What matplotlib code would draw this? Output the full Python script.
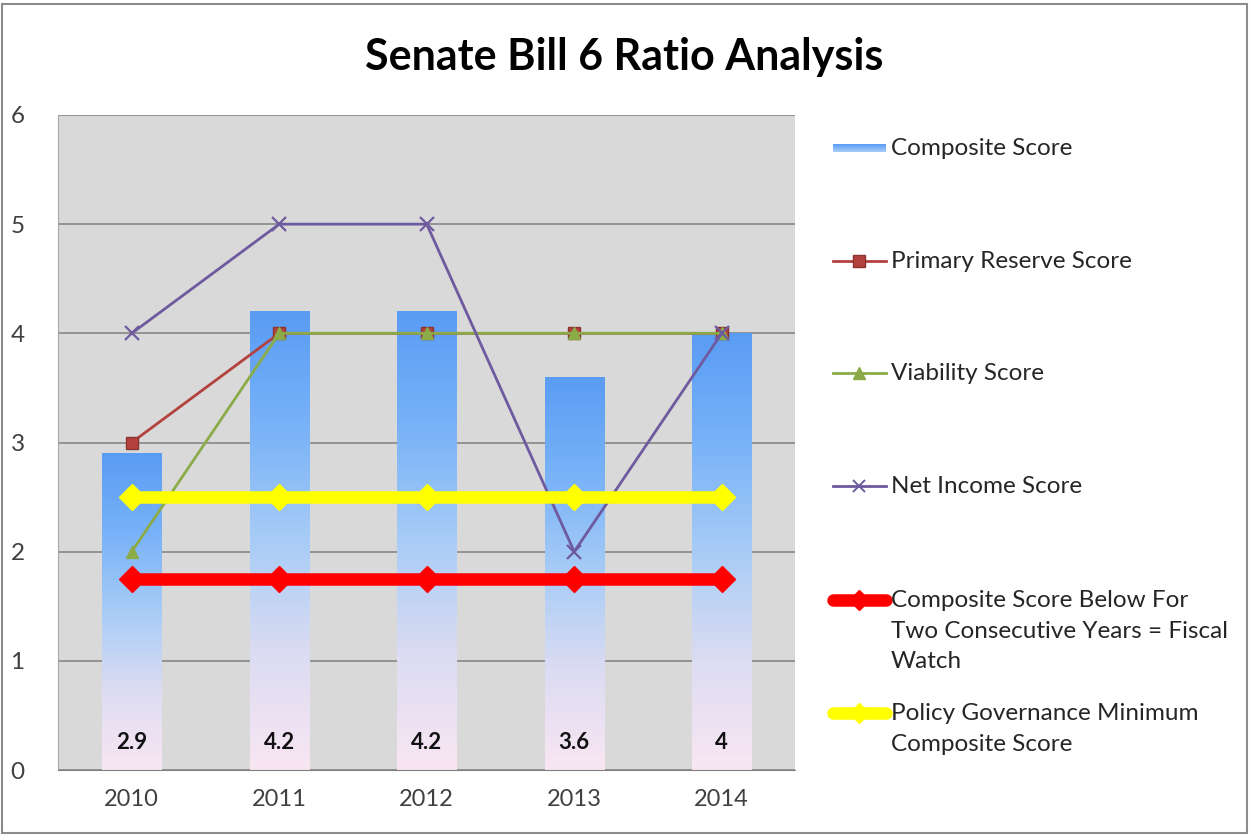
import numpy as np
import matplotlib.pyplot as plt
from matplotlib.colors import LinearSegmentedColormap
from matplotlib.lines import Line2D
from matplotlib.patches import Rectangle

plt.rcParams['font.family'] = ['Lato', 'DejaVu Sans']

# Scores by year
years = ['2010', '2011', '2012', '2013', '2014']
composite = [2.9, 4.2, 4.2, 3.6, 4]
primary_reserve = [3, 4, 4, 4, 4]
viability = [2, 4, 4, 4, 4]
net_income = [4, 5, 5, 2, 4]
fiscal_watch = [1.75, 1.75, 1.75, 1.75, 1.75]
policy_minimum = [2.5, 2.5, 2.5, 2.5, 2.5]

x = np.arange(len(years))
bar_w = 0.40

fig = plt.figure(figsize=(12.49, 8.35), dpi=100)
ax = fig.add_axes([0.0464, 0.0778, 0.5905, 0.7845])
ax.set_facecolor('#d9d9d9')

# vertical blue -> pale pink fill for the composite bars
grad = LinearSegmentedColormap.from_list(
    'bar', ['#f9e6f3', '#dcdcf2', '#a8ccf6', '#78b2f8', '#5a9cf4'])
ramp = np.linspace(0, 1, 256).reshape(-1, 1)

bars = ax.bar(x, composite, width=bar_w, color='none', zorder=2)
for b in bars:
    x0, w, h = b.get_x(), b.get_width(), b.get_height()
    im = ax.imshow(ramp, cmap=grad, origin='lower', aspect='auto',
                   extent=[x0, x0 + w, 0, h], zorder=2, interpolation='bicubic')
    im.set_clip_path(b)

for xi, v in zip(x, composite):
    ax.text(xi, 0.25, f'{v:g}', ha='center', va='center', fontsize=16,
            fontweight='bold', color='#111111', zorder=6)

ax.plot(x, primary_reserve, color='#b3423f', lw=2, marker='s', ms=9,
        mfc='#b3423f', mec='#8c3330', zorder=3)
ax.plot(x, viability, color='#8bab49', lw=2, marker='^', ms=9,
        mfc='#8bab49', mec='#8bab49', zorder=3)
ax.plot(x, net_income, color='#6e5a9e', lw=2, marker='x', ms=10, mew=1.6,
        zorder=3)
ax.plot(x, fiscal_watch, color='#ff0000', lw=9, marker='D', ms=13,
        solid_capstyle='butt', zorder=4)
ax.plot(x, policy_minimum, color='#ffff00', lw=9, marker='D', ms=13,
        solid_capstyle='butt', zorder=4)

ax.set_xlim(-0.5, 4.5)
ax.set_ylim(0, 6)
ax.set_yticks(range(7))
ax.set_xticks(x)
ax.set_xticklabels(years)
ax.yaxis.grid(True, color='#7f7f7f', lw=1.1, zorder=1)
ax.set_axisbelow(True)
for side in ['top', 'right']:
    ax.spines[side].set_visible(False)
ax.spines['left'].set_color('#a6a6a6')
ax.spines['bottom'].set_color('#808080')
ax.tick_params(axis='y', length=0, pad=24, labelsize=17.5, labelcolor='#404040')
ax.tick_params(axis='x', length=0, pad=14, labelsize=17, labelcolor='#404040')

fig.text(0.5, 0.932, 'Senate Bill 6 Ratio Analysis', ha='center', va='center',
         fontsize=31, fontweight='bold', color='black')

# legend drawn in pixel coordinates on an overlay
lax = fig.add_axes([0, 0, 1, 1], zorder=10)
lax.axis('off')

lx0, lx1, tx = 833, 886, 891
lg = np.linspace(0, 1, 64).reshape(-1, 1)
lax.imshow(lg, cmap=LinearSegmentedColormap.from_list('lg', ['#5a9cf4', '#a9cdf8']),
           aspect='auto', extent=[lx0, lx1, 152, 144], zorder=11)
lax.set_xlim(0, 1249)
lax.set_ylim(835, 0)

entries = [
    (261, dict(color='#b3423f', lw=2, marker='s', ms=8, mfc='#b3423f', mec='#8c3330')),
    (373, dict(color='#8bab49', lw=2, marker='^', ms=8, mfc='#8bab49', mec='#8bab49')),
    (486, dict(color='#6e5a9e', lw=2, marker='x', ms=8, mew=1.4)),
    (600, dict(color='#ff0000', lw=9, marker='D', ms=10, solid_capstyle='round')),
    (713, dict(color='#ffff00', lw=9, marker='D', ms=10, solid_capstyle='round')),
]
for yy, style in entries:
    lax.add_line(Line2D([lx0, (lx0 + lx1) / 2, lx1], [yy, yy, yy],
                        markevery=[1], **style))

labels = [
    (148, 'Composite Score'),
    (261, 'Primary Reserve Score'),
    (373, 'Viability Score'),
    (486, 'Net Income Score'),
    (600, 'Composite Score Below For\nTwo Consecutive Years = Fiscal\nWatch'),
    (713, 'Policy Governance Minimum\nComposite Score'),
]
for yy, txt in labels:
    lax.text(tx, yy - 10, txt, ha='left', va='top', fontsize=17.5,
             color='#262626', linespacing=1.56)

# outer chart border
fig.add_artist(Rectangle((0.002, 0.002), 0.996, 0.993, transform=fig.transFigure,
                         fill=False, edgecolor='#8c8c8c', lw=1.5))

fig.savefig('out.png', dpi=100, facecolor='white')
